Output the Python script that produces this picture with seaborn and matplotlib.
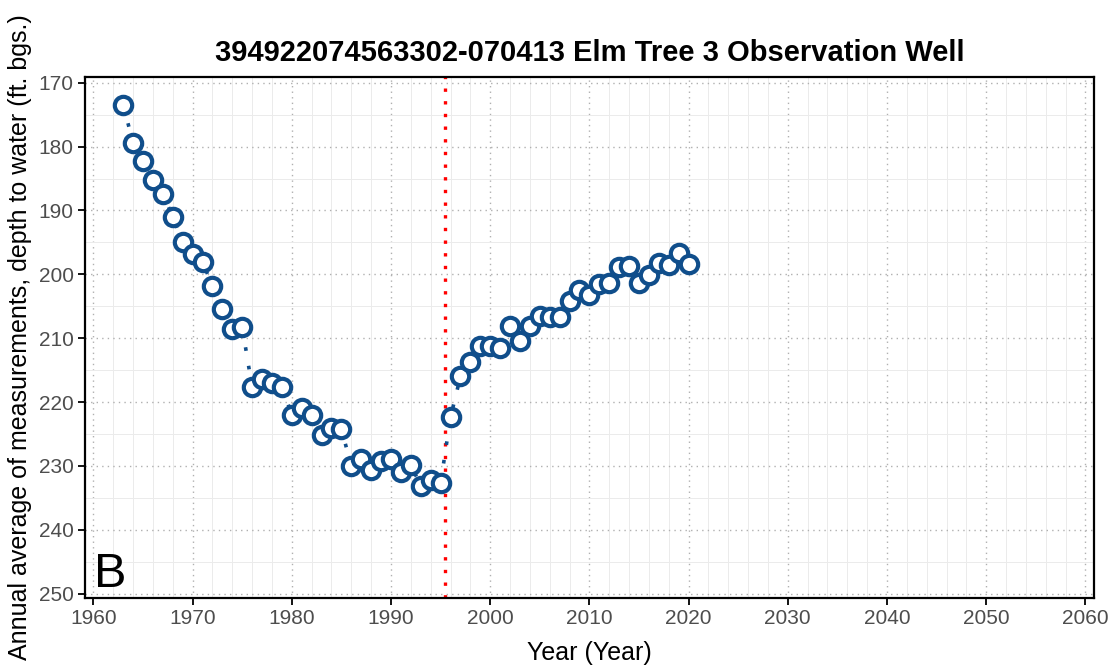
import matplotlib
matplotlib.use('Agg')
import matplotlib.pyplot as plt
import seaborn as sns
import pandas as pd
from matplotlib.ticker import MultipleLocator

# annual average depth to water (ft. bgs.)
years = list(range(1963, 2021))
depth = [173.5, 179.4, 182.2, 185.2, 187.4, 191.0, 194.9, 196.8, 198.1, 201.8,
         205.4, 208.5, 208.3, 217.7, 216.4, 217.0, 217.6, 222.0, 221.0, 222.1,
         225.1, 224.0, 224.2, 230.1, 228.9, 230.6, 229.3, 228.9, 231.0, 229.8,
         233.2, 232.2, 232.7, 222.4, 216.0, 213.7, 211.2, 211.3, 211.6, 208.1,
         210.4, 208.1, 206.5, 206.7, 206.7, 204.2, 202.5, 203.3, 201.5, 201.3,
         198.9, 198.7, 201.3, 200.1, 198.2, 198.5, 196.6, 198.4]
change_year = 1995.45
x_ticks = list(range(1960, 2061, 10))
y_ticks = list(range(170, 251, 10))

title = '394922074563302-070413 Elm Tree 3 Observation Well'
xlab = 'Year (Year)'
ylab = 'Annual average of measurements, depth to water (ft. bgs.)'
panel = 'B'

blue = '#104E8B'

sns.set_theme(style='white')
plt.rcParams['font.family'] = ['Liberation Sans', 'DejaVu Sans']

df = pd.DataFrame({'year': years, 'depth': depth})

fig = plt.figure(figsize=(11.08, 6.69), dpi=100)
ax = fig.add_axes([0.0767, 0.1057, 0.9107, 0.7796])

ax.set_axisbelow(True)
ax.xaxis.set_minor_locator(MultipleLocator(2))
ax.yaxis.set_minor_locator(MultipleLocator(5))
ax.grid(which='minor', color='#ebebeb', lw=0.7, ls='-')
ax.grid(which='major', color='#b0b0b0', lw=1.0, ls=(0, (1, 3)))

sns.lineplot(data=df, x='year', y='depth', ax=ax, color=blue, lw=2.6,
             linestyle=(0, (1, 4.2)), marker='o', markersize=12.5,
             markerfacecolor='white', markeredgecolor=blue, markeredgewidth=3.0,
             zorder=3)
ax.axvline(change_year, color='red', lw=2.4, ls=(0, (1, 2.8)), zorder=2)

ax.set_xlim(1959.15, 2060.87)
ax.set_ylim(250.74, 169.06)
ax.set_xticks(x_ticks)
ax.set_yticks(y_ticks)

for s in ax.spines.values():
    s.set_color('black')
    s.set_linewidth(1.6)
ax.tick_params(which='major', direction='out', length=5, width=1.3, color='black',
               labelsize=15, labelcolor='#4d4d4d', left=True, bottom=True, pad=3)
ax.tick_params(which='minor', length=0)

ax.set_xlabel(xlab, fontsize=18, color='black', labelpad=9)
ax.set_ylabel(ylab, fontsize=18, color='black', labelpad=5)
ax.set_title(title, fontsize=21, fontweight='bold', color='black', pad=11)

ax.text(0.009, 0.002, panel, transform=ax.transAxes, fontsize=35,
        ha='left', va='bottom', color='black')

fig.savefig('out.png', dpi=100)
